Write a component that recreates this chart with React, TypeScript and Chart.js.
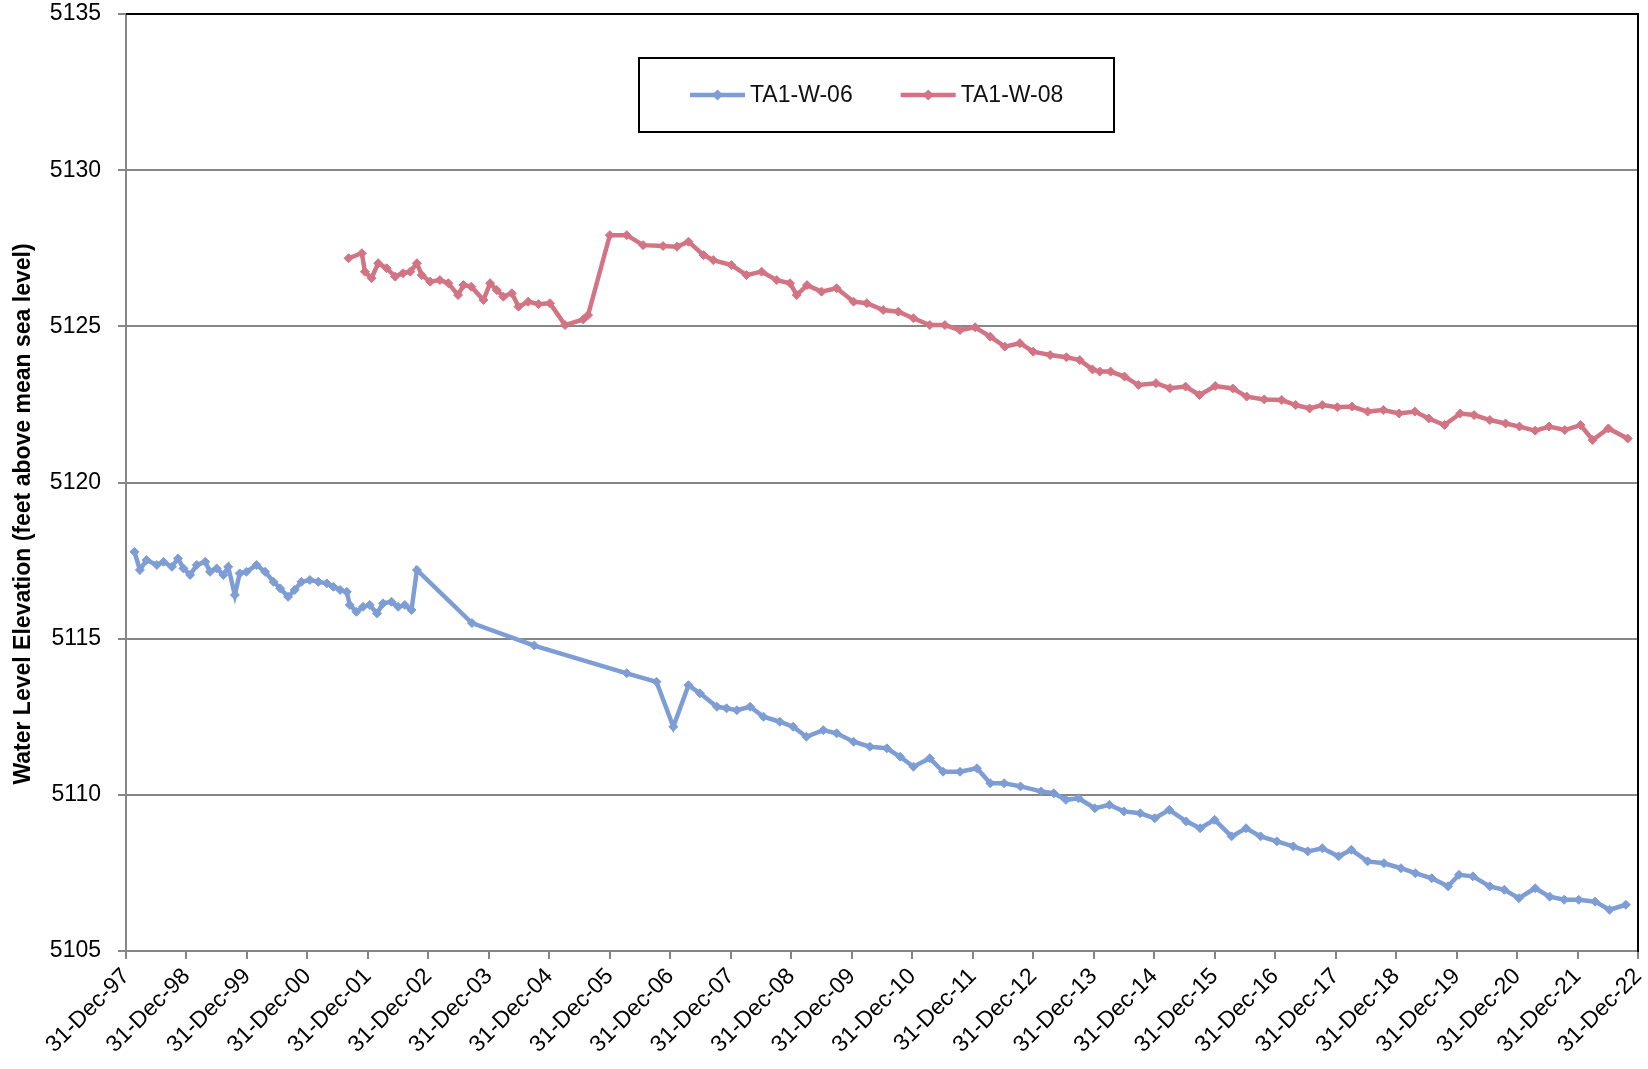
import { useEffect, useRef } from 'react';
import { Chart, registerables } from 'chart.js';

Chart.register(...registerables);

// TA1-W-06 (decimal year, water level ft amsl)
const w06Years = [
  1998.14, 1998.23, 1998.34, 1998.51, 1998.62, 1998.76, 1998.86, 1998.95, 1999.06, 1999.17,
  1999.31, 1999.39, 1999.5, 1999.61, 1999.69, 1999.8, 1999.88, 1999.99, 2000.16, 2000.3,
  2000.44, 2000.55, 2000.68, 2000.79, 2000.9, 2001.04, 2001.18, 2001.32, 2001.43, 2001.54,
  2001.65, 2001.7, 2001.81, 2001.92, 2002.03, 2002.15, 2002.25, 2002.39, 2002.5, 2002.61,
  2002.72, 2002.81, 2003.72, 2004.75, 2006.28, 2006.77, 2007.05, 2007.3, 2007.49, 2007.77,
  2007.93, 2008.1, 2008.32, 2008.54, 2008.81, 2009.03, 2009.25, 2009.53, 2009.75, 2010.03,
  2010.3, 2010.58, 2010.8, 2011.02, 2011.29, 2011.51, 2011.79, 2012.07, 2012.29, 2012.52,
  2012.79, 2013.13, 2013.34, 2013.54, 2013.75, 2014.02, 2014.26, 2014.5, 2014.77, 2015.01,
  2015.25, 2015.53, 2015.76, 2016.0, 2016.28, 2016.52, 2016.76, 2017.03, 2017.3, 2017.54,
  2017.78, 2018.05, 2018.26, 2018.53, 2018.8, 2019.08, 2019.32, 2019.59, 2019.86, 2020.04,
  2020.27, 2020.55, 2020.79, 2021.03, 2021.3, 2021.54, 2021.78, 2022.02, 2022.29, 2022.53,
  2022.8,
];
const w06Levels = [
  5117.78, 5117.2, 5117.52, 5117.36, 5117.46, 5117.3, 5117.57, 5117.25, 5117.04, 5117.36,
  5117.46, 5117.14, 5117.25, 5117.04, 5117.3, 5116.4, 5117.09, 5117.14, 5117.36, 5117.14,
  5116.82, 5116.61, 5116.34, 5116.56, 5116.82, 5116.88, 5116.82, 5116.77, 5116.66, 5116.56,
  5116.5, 5116.08, 5115.86, 5116.02, 5116.08, 5115.81, 5116.13, 5116.18, 5116.02, 5116.08,
  5115.92, 5117.2, 5115.5, 5114.78, 5113.89, 5113.62, 5112.18, 5113.51, 5113.25, 5112.82,
  5112.77, 5112.71, 5112.82, 5112.5, 5112.34, 5112.18, 5111.86, 5112.07, 5111.97, 5111.7,
  5111.54, 5111.49, 5111.22, 5110.9, 5111.17, 5110.74, 5110.74, 5110.85, 5110.37, 5110.37,
  5110.27, 5110.11, 5110.05, 5109.84, 5109.89, 5109.57, 5109.68, 5109.47, 5109.41, 5109.25,
  5109.52, 5109.15, 5108.93, 5109.2, 5108.67, 5108.93, 5108.67, 5108.51, 5108.35, 5108.19,
  5108.29, 5108.03, 5108.24, 5107.87, 5107.81, 5107.65, 5107.49, 5107.33, 5107.07, 5107.44,
  5107.39, 5107.07, 5106.96, 5106.69, 5107.01, 5106.74, 5106.64, 5106.64, 5106.58, 5106.32,
  5106.48,
];

// TA1-W-08 (decimal year, water level ft amsl)
const w08Years = [
  2001.68, 2001.9, 2001.95, 2002.06, 2002.17, 2002.31, 2002.45, 2002.58, 2002.7, 2002.81,
  2002.89, 2003.03, 2003.19, 2003.33, 2003.49, 2003.58, 2003.71, 2003.91, 2004.02, 2004.13,
  2004.24, 2004.38, 2004.49, 2004.65, 2004.82, 2005.01, 2005.26, 2005.56, 2005.64, 2006.0,
  2006.28, 2006.55, 2006.88, 2007.11, 2007.3, 2007.55, 2007.71, 2008.01, 2008.26, 2008.51,
  2008.76, 2008.98, 2009.09, 2009.26, 2009.5, 2009.75, 2010.03, 2010.25, 2010.52, 2010.77,
  2011.02, 2011.29, 2011.54, 2011.79, 2012.04, 2012.29, 2012.53, 2012.78, 2013.0, 2013.28,
  2013.55, 2013.77, 2013.98, 2014.1, 2014.28, 2014.51, 2014.74, 2015.03, 2015.26, 2015.52,
  2015.75, 2016.01, 2016.3, 2016.53, 2016.82, 2017.11, 2017.34, 2017.57, 2017.78, 2018.03,
  2018.27, 2018.53, 2018.79, 2019.05, 2019.31, 2019.54, 2019.8, 2020.06, 2020.29, 2020.55,
  2020.81, 2021.04, 2021.3, 2021.53, 2021.79, 2022.05, 2022.25, 2022.51, 2022.83,
];
const w08Levels = [
  5127.18, 5127.34, 5126.75, 5126.54, 5127.02, 5126.86, 5126.59, 5126.7, 5126.75, 5127.02,
  5126.64, 5126.43, 5126.48, 5126.38, 5126.0, 5126.32, 5126.27, 5125.84, 5126.38, 5126.16,
  5125.95, 5126.06, 5125.63, 5125.79, 5125.71, 5125.74, 5125.04, 5125.22, 5125.36, 5127.92,
  5127.92, 5127.6, 5127.57, 5127.55, 5127.71, 5127.28, 5127.12, 5126.96, 5126.64, 5126.75,
  5126.48, 5126.38, 5126.0, 5126.32, 5126.11, 5126.22, 5125.79, 5125.74, 5125.52, 5125.47,
  5125.26, 5125.04, 5125.04, 5124.88, 5124.97, 5124.67, 5124.35, 5124.46, 5124.19, 5124.08,
  5124.01, 5123.92, 5123.62, 5123.55, 5123.55, 5123.39, 5123.12, 5123.18, 5123.02, 5123.07,
  5122.8, 5123.09, 5123.01, 5122.75, 5122.66, 5122.64, 5122.48, 5122.37, 5122.48, 5122.41,
  5122.43, 5122.27, 5122.32, 5122.21, 5122.27, 5122.05, 5121.84, 5122.21, 5122.16, 5122.0,
  5121.89, 5121.79, 5121.66, 5121.79, 5121.68, 5121.84, 5121.36, 5121.73, 5121.41,
];

const seriesNames = ['TA1-W-06', 'TA1-W-08'];
const seriesColors = ['#7E9DD4', '#D27483'];

const xTickLabels = [
  '31-Dec-97', '31-Dec-98', '31-Dec-99', '31-Dec-00', '31-Dec-01', '31-Dec-02', '31-Dec-03',
  '31-Dec-04', '31-Dec-05', '31-Dec-06', '31-Dec-07', '31-Dec-08', '31-Dec-09', '31-Dec-10',
  '31-Dec-11', '31-Dec-12', '31-Dec-13', '31-Dec-14', '31-Dec-15', '31-Dec-16', '31-Dec-17',
  '31-Dec-18', '31-Dec-19', '31-Dec-20', '31-Dec-21', '31-Dec-22',
];
const xStart = 1998;
const xEnd = 2023;
const yMin = 5105;
const yMax = 5135;
const yStep = 5;
const yAxisTitle = 'Water Level Elevation (feet above mean sea level)';

const FONT = '"Liberation Sans", Arial, sans-serif';

const framePlugin = {
  id: 'frameLegendTitle',
  afterDraw(chart: any) {
    const { ctx, chartArea: ca } = chart;
    ctx.save();
    // black frame on top and right
    ctx.strokeStyle = '#000';
    ctx.lineWidth = 2;
    ctx.beginPath();
    ctx.moveTo(ca.left, ca.top);
    ctx.lineTo(ca.right, ca.top);
    ctx.lineTo(ca.right, ca.bottom + 1);
    ctx.stroke();

    // legend box
    const bx = ca.left + 513;
    const by = ca.top + 44;
    const bw = 475;
    const bh = 74;
    ctx.fillStyle = '#fff';
    ctx.fillRect(bx, by, bw, bh);
    ctx.strokeStyle = '#000';
    ctx.lineWidth = 2;
    ctx.strokeRect(bx, by, bw, bh);
    ctx.font = `23px ${FONT}`;
    ctx.textBaseline = 'middle';
    ctx.textAlign = 'left';
    const cy = by + bh / 2;
    let x = bx + 51;
    chart.data.datasets.forEach((ds: any) => {
      ctx.strokeStyle = ds.borderColor;
      ctx.lineWidth = 4.5;
      ctx.beginPath();
      ctx.moveTo(x, cy);
      ctx.lineTo(x + 55, cy);
      ctx.stroke();
      ctx.fillStyle = ds.borderColor;
      const mx = x + 27.5;
      ctx.beginPath();
      ctx.moveTo(mx, cy - 5.5);
      ctx.lineTo(mx + 5.5, cy);
      ctx.lineTo(mx, cy + 5.5);
      ctx.lineTo(mx - 5.5, cy);
      ctx.closePath();
      ctx.fill();
      ctx.fillStyle = '#111';
      ctx.fillText(ds.label, x + 60, cy + 1);
      x += 60 + ctx.measureText(ds.label).width + 48;
    });

    // y axis title
    ctx.translate(24, 514);
    ctx.rotate(-Math.PI / 2);
    ctx.font = `bold 23px ${FONT}`;
    ctx.textAlign = 'center';
    ctx.textBaseline = 'middle';
    ctx.fillStyle = '#000';
    ctx.fillText(yAxisTitle, 0, 0);
    ctx.restore();
  },
};

export default function App() {
  const canvasRef = useRef<HTMLCanvasElement | null>(null);

  useEffect(() => {
    if (!canvasRef.current) return;
    const mk = (xs: number[], ys: number[]) => xs.map((x, i) => ({ x, y: ys[i] }));
    const dsStyle = (c: string) => ({
      borderColor: c,
      backgroundColor: c,
      borderWidth: 4.5,
      pointStyle: 'rectRot' as const,
      pointRadius: 4.5,
      pointBorderWidth: 1,
      pointBackgroundColor: c,
      pointBorderColor: c,
      tension: 0,
      fill: false,
    });
    const chart = new Chart(canvasRef.current, {
      type: 'line',
      data: {
        datasets: [
          { label: seriesNames[0], data: mk(w06Years, w06Levels), ...dsStyle(seriesColors[0]) },
          { label: seriesNames[1], data: mk(w08Years, w08Levels), ...dsStyle(seriesColors[1]) },
        ],
      },
      options: {
        animation: false,
        responsive: true,
        maintainAspectRatio: false,
        layout: { padding: { top: 0, right: 0, left: 0, bottom: 0 }, autoPadding: false },
        plugins: {
          legend: { display: false },
          tooltip: { enabled: false },
          title: { display: false },
        },
        scales: {
          x: {
            type: 'linear',
            min: xStart,
            max: xEnd,
            afterFit: (scale: any) => {
              scale.height = 118;
              scale.paddingLeft = 0;
              scale.paddingRight = 10;
            },
            afterBuildTicks: (scale: any) => {
              scale.ticks = xTickLabels.map((_, i) => ({ value: xStart + i }));
            },
            ticks: {
              autoSkip: false,
              minRotation: 45,
              maxRotation: 45,
              padding: 4,
              color: '#000',
              font: { family: FONT, size: 23 },
              callback: (value: any) => xTickLabels[Math.round(Number(value) - xStart)] ?? '',
            },
            grid: {
              display: true,
              drawOnChartArea: false,
              drawTicks: true,
              tickLength: 8,
              color: '#868686',
              lineWidth: 2,
            },
            border: { display: true, color: '#868686', width: 2 },
          },
          y: {
            type: 'linear',
            min: yMin,
            max: yMax,
            afterFit: (scale: any) => {
              scale.width = 126;
              scale.paddingTop = 14;
              scale.paddingBottom = 0;
            },
            ticks: {
              stepSize: yStep,
              padding: 17,
              color: '#000',
              font: { family: FONT, size: 23 },
              callback: (value: any) => String(value),
            },
            grid: {
              color: '#868686',
              lineWidth: 2,
              drawTicks: true,
              tickLength: 8,
            },
            border: { display: true, color: '#868686', width: 2 },
          },
        },
      },
      plugins: [framePlugin],
    });
    return () => chart.destroy();
  }, []);

  return (
    <div style={{ position: 'absolute', left: 0, top: 0, width: 1648, height: 1069, background: '#fff' }}>
      <canvas ref={canvasRef} />
    </div>
  );
}
